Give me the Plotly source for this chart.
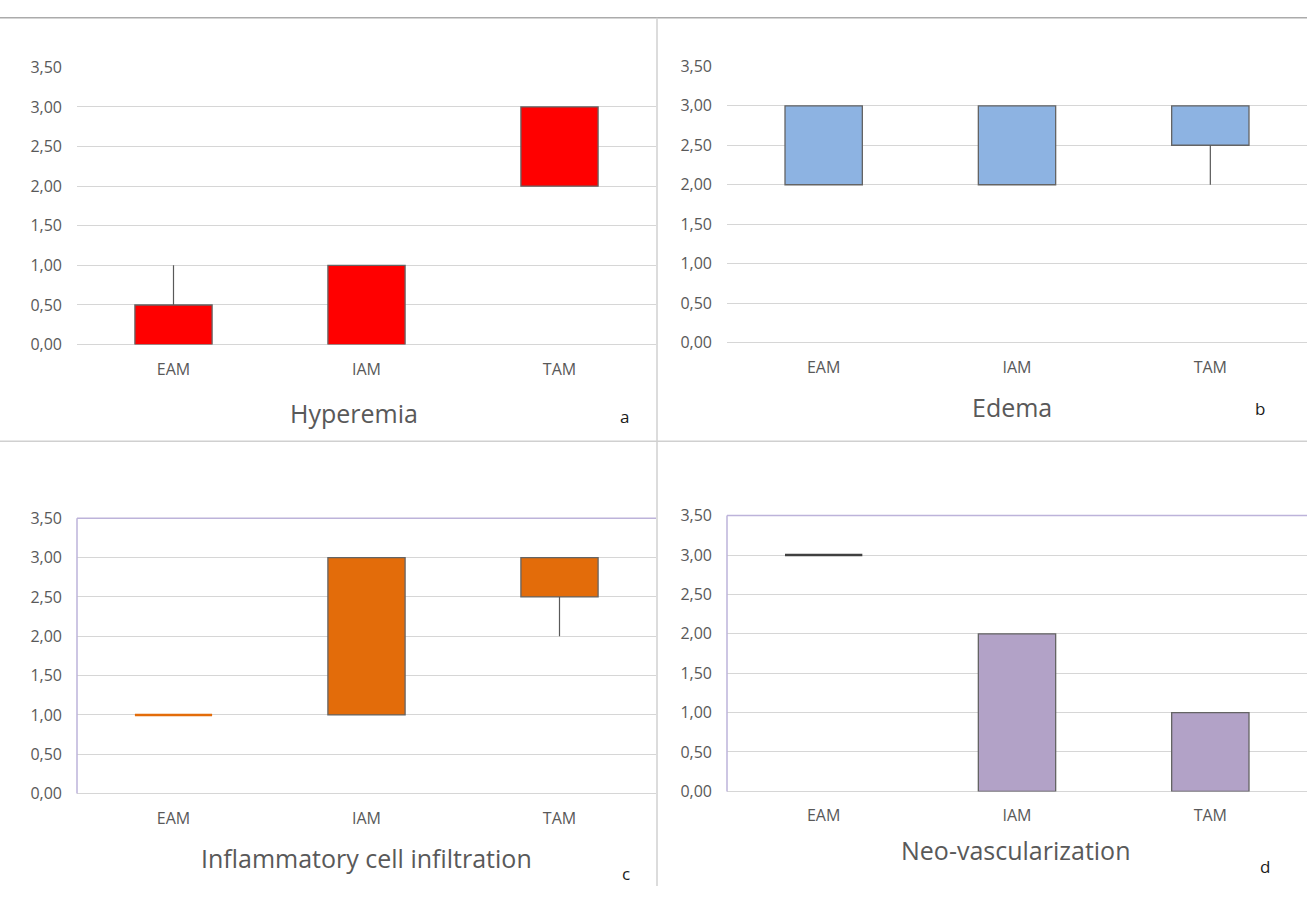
import plotly.graph_objects as go

W, H = 1307, 897

categories = ["EAM", "IAM", "TAM"]
tick_values = [0.0, 0.5, 1.0, 1.5, 2.0, 2.5, 3.0, 3.5]

# Hyperemia (a)
hyp_min = [0.0, 0.0, 2.0]
hyp_q1 = [0.0, 0.0, 2.0]
hyp_q3 = [0.5, 1.0, 3.0]
hyp_max = [1.0, 1.0, 3.0]

# Edema (b)
ede_min = [2.0, 2.0, 2.0]
ede_q1 = [2.0, 2.0, 2.5]
ede_q3 = [3.0, 3.0, 3.0]
ede_max = [3.0, 3.0, 3.0]

# Inflammatory cell infiltration (c)
inf_min = [1.0, 1.0, 2.0]
inf_q1 = [1.0, 1.0, 2.5]
inf_q3 = [1.0, 3.0, 3.0]
inf_max = [1.0, 3.0, 3.0]

# Neo-vascularization (d)
neo_min = [3.0, 0.0, 0.0]
neo_q1 = [3.0, 0.0, 0.0]
neo_q3 = [3.0, 2.0, 1.0]
neo_max = [3.0, 2.0, 1.0]

panel_titles = ["Hyperemia", "Edema", "Inflammatory cell infiltration", "Neo-vascularization"]
panel_letters = ["a", "b", "c", "d"]

panels = [
    dict(mn=hyp_min, q1=hyp_q1, q3=hyp_q3, mx=hyp_max, color="#FF0000", flat="#FF0000",
         xdom=(77, 656), ydom=(342, 57.7), frame=False,
         title_xy=(354, 412), letter_xy=(624, 416)),
    dict(mn=ede_min, q1=ede_q1, q3=ede_q3, mx=ede_max, color="#8DB3E2", flat="#8DB3E2",
         xdom=(727, 1307), ydom=(340, 56.7), frame=False,
         title_xy=(1012, 406), letter_xy=(1260, 407)),
    dict(mn=inf_min, q1=inf_q1, q3=inf_q3, mx=inf_max, color="#E36C0A", flat="#E36C0A",
         xdom=(77, 656), ydom=(802.3, 520), frame=True,
         title_xy=(366, 868), letter_xy=(626, 884)),
    dict(mn=neo_min, q1=neo_q1, q3=neo_q3, mx=neo_max, color="#B2A2C7", flat="#404040",
         xdom=(727, 1307), ydom=(800, 517.3), frame=True,
         title_xy=(1015, 860), letter_xy=(1265, 877)),
]

FONT = "Open Sans"
TXT = "#595959"
GRID = "#D6D6D6"
OUTLINE = "#646464"
FRAME = "#BDB3DA"
BW = 0.4

fig = go.Figure()
layout = dict(
    width=W, height=H, margin=dict(l=0, r=0, t=0, b=0),
    paper_bgcolor="white", plot_bgcolor="white",
    showlegend=False, separators=", ",
    font=dict(family=FONT, color=TXT),
)
shapes = []
annotations = []

for i, p in enumerate(panels):
    n = i + 1
    xs = "" if n == 1 else str(n)
    xref, yref = "x" + xs, "y" + xs
    xpos = list(range(len(categories)))

    box_x = [x for x, a, b in zip(xpos, p["q1"], p["q3"]) if b > a]
    box_b = [a for a, b in zip(p["q1"], p["q3"]) if b > a]
    box_h = [b - a for a, b in zip(p["q1"], p["q3"]) if b > a]
    fig.add_trace(go.Bar(x=box_x, y=box_h, base=box_b, width=BW,
                         marker=dict(color=p["color"], line=dict(color=OUTLINE, width=1.3)),
                         xaxis=xref, yaxis=yref, hoverinfo="skip"))

    wx, wy = [], []
    for x, lo, a, b, hi in zip(xpos, p["mn"], p["q1"], p["q3"], p["mx"]):
        if hi > b:
            wx += [x, x, None]; wy += [b, hi, None]
        if lo < a:
            wx += [x, x, None]; wy += [lo, a, None]
    if wx:
        fig.add_trace(go.Scatter(x=wx, y=wy, mode="lines", line=dict(color=TXT, width=1.2),
                                 xaxis=xref, yaxis=yref, hoverinfo="skip"))

    fx, fy = [], []
    for x, a, b in zip(xpos, p["q1"], p["q3"]):
        if b == a:
            fx += [x - BW / 2, x + BW / 2, None]; fy += [a, a, None]
    if fx:
        fig.add_trace(go.Scatter(x=fx, y=fy, mode="lines", line=dict(color=p["flat"], width=2.6),
                                 xaxis=xref, yaxis=yref, hoverinfo="skip"))

    x0, x1 = p["xdom"]
    yb, yt = p["ydom"]
    layout["xaxis" + xs] = dict(
        domain=[x0 / W, min(x1 / W, 1.0)], range=[-0.5, 2.5], anchor=yref,
        tickvals=xpos, ticktext=categories, showgrid=False, zeroline=False,
        showline=False, ticks="", tickfont=dict(size=16, color=TXT, family=FONT),
        ticklabelstandoff=13, fixedrange=True,
    )
    layout["yaxis" + xs] = dict(
        domain=[1 - yb / H, 1 - yt / H], range=[0, 3.5], anchor=xref,
        tickvals=tick_values, tickformat=".2f", showgrid=True, gridcolor=GRID, gridwidth=1,
        zeroline=True, zerolinecolor=GRID, zerolinewidth=1, showline=False, ticks="",
        tickfont=dict(size=16, color=TXT, family=FONT), ticklabelstandoff=14, fixedrange=True,
    )
    if p["frame"]:
        shapes.append(dict(type="line", xref=xref + " domain", yref=yref + " domain",
                           x0=0, x1=1, y0=1, y1=1, line=dict(color=FRAME, width=1.5)))
        shapes.append(dict(type="line", xref=xref + " domain", yref=yref + " domain",
                           x0=0, x1=0, y0=0, y1=1, line=dict(color=FRAME, width=1.5)))

    tx, ty = p["title_xy"]
    annotations.append(dict(text=panel_titles[i], x=tx / W, y=1 - ty / H, xref="paper", yref="paper",
                            showarrow=False, xanchor="center", yanchor="middle",
                            font=dict(size=25, color=TXT, family=FONT)))
    lx, ly = p["letter_xy"]
    annotations.append(dict(text=panel_letters[i], x=lx / W, y=1 - ly / H, xref="paper", yref="paper",
                            showarrow=False, xanchor="center", yanchor="middle",
                            font=dict(size=17, color="#1a1a1a", family=FONT)))

SEP = "#D0D0D0"
shapes.append(dict(type="line", xref="paper", yref="paper", x0=0, x1=1, y0=1 - 7 / H, y1=1 - 7 / H,
                   line=dict(color="#ABABAB", width=1.5)))
shapes.append(dict(type="line", xref="paper", yref="paper", x0=657 / W, x1=657 / W, y0=0, y1=1 - 7 / H,
                   line=dict(color=SEP, width=1.5)))
shapes.append(dict(type="line", xref="paper", yref="paper", x0=0, x1=1, y0=1 - 441 / H, y1=1 - 441 / H,
                   line=dict(color=SEP, width=1.5)))

layout["shapes"] = shapes
layout["annotations"] = annotations
fig.update_layout(**layout)
fig.write_html("out.html", config={"displayModeBar": False, "staticPlot": True},
               post_script="document.body.style.margin='0';document.body.style.overflow='hidden';")
